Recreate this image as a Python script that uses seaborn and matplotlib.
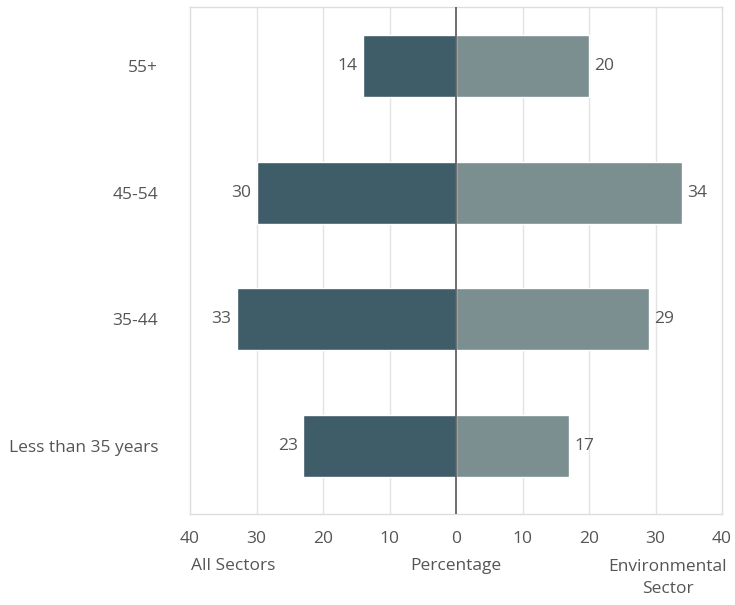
import matplotlib
matplotlib.use("Agg")
import matplotlib.pyplot as plt
import seaborn as sns

# Data
age_groups = ["55+", "45-54", "35-44", "Less than 35 years"]
all_sectors = [14, 30, 33, 23]
environmental = [20, 34, 29, 17]
x_ticks = [-40, -30, -20, -10, 0, 10, 20, 30, 40]

dark = "#3f5c69"
light = "#7b8f91"
text_col = "#555555"
fs = 12.5

sns.set_style("white")
plt.rcParams["font.family"] = ["Open Sans", "DejaVu Sans"]

fig = plt.figure(figsize=(7.35, 6.05), dpi=100)
ax = fig.add_axes([190 / 735, 1 - 514 / 605, 532 / 735, 507 / 605])

# left side drawn as negative values
sns.barplot(x=[-v for v in all_sectors], y=age_groups, color=dark, orient="h",
            width=0.49, ax=ax, saturation=1)
sns.barplot(x=environmental, y=age_groups, color=light, orient="h",
            width=0.49, ax=ax, saturation=1)

ax.set_xlim(-40, 40)
ax.set_ylim(3.54, -0.47)

# grid
for t in x_ticks:
    if t not in (-40, 0, 40):
        ax.axvline(t, color="#e3e3e3", lw=1, zorder=0)
ax.axvline(0, color="#555555", lw=1.2, zorder=3)

for s in ax.spines.values():
    s.set_color("#dddddd")
    s.set_linewidth(1)

# value labels
for i, (a, e) in enumerate(zip(all_sectors, environmental)):
    ax.text(-a - 0.8, i, str(a), ha="right", va="center", fontsize=fs, color=text_col)
    ax.text(e + 0.8, i, str(e), ha="left", va="center", fontsize=fs, color=text_col)

ax.set_xticks(x_ticks)
ax.set_xticklabels([str(abs(t)) for t in x_ticks])
ax.tick_params(axis="x", length=0, pad=12, labelsize=fs, labelcolor=text_col)
ax.tick_params(axis="y", length=0, pad=23, labelsize=fs, labelcolor=text_col)
ax.set_xlabel("")
ax.set_ylabel("")

fig.text(233 / 735, 1 - 566 / 605, "All Sectors", ha="center", va="center",
         fontsize=fs, color=text_col)
fig.text(456 / 735, 1 - 566 / 605, "Percentage", ha="center", va="center",
         fontsize=fs, color=text_col)
fig.text(668 / 735, 1 - 578 / 605, "Environmental\nSector", ha="center", va="center",
         fontsize=fs, color=text_col, linespacing=1.55)

plt.savefig("out.png", dpi=100)
